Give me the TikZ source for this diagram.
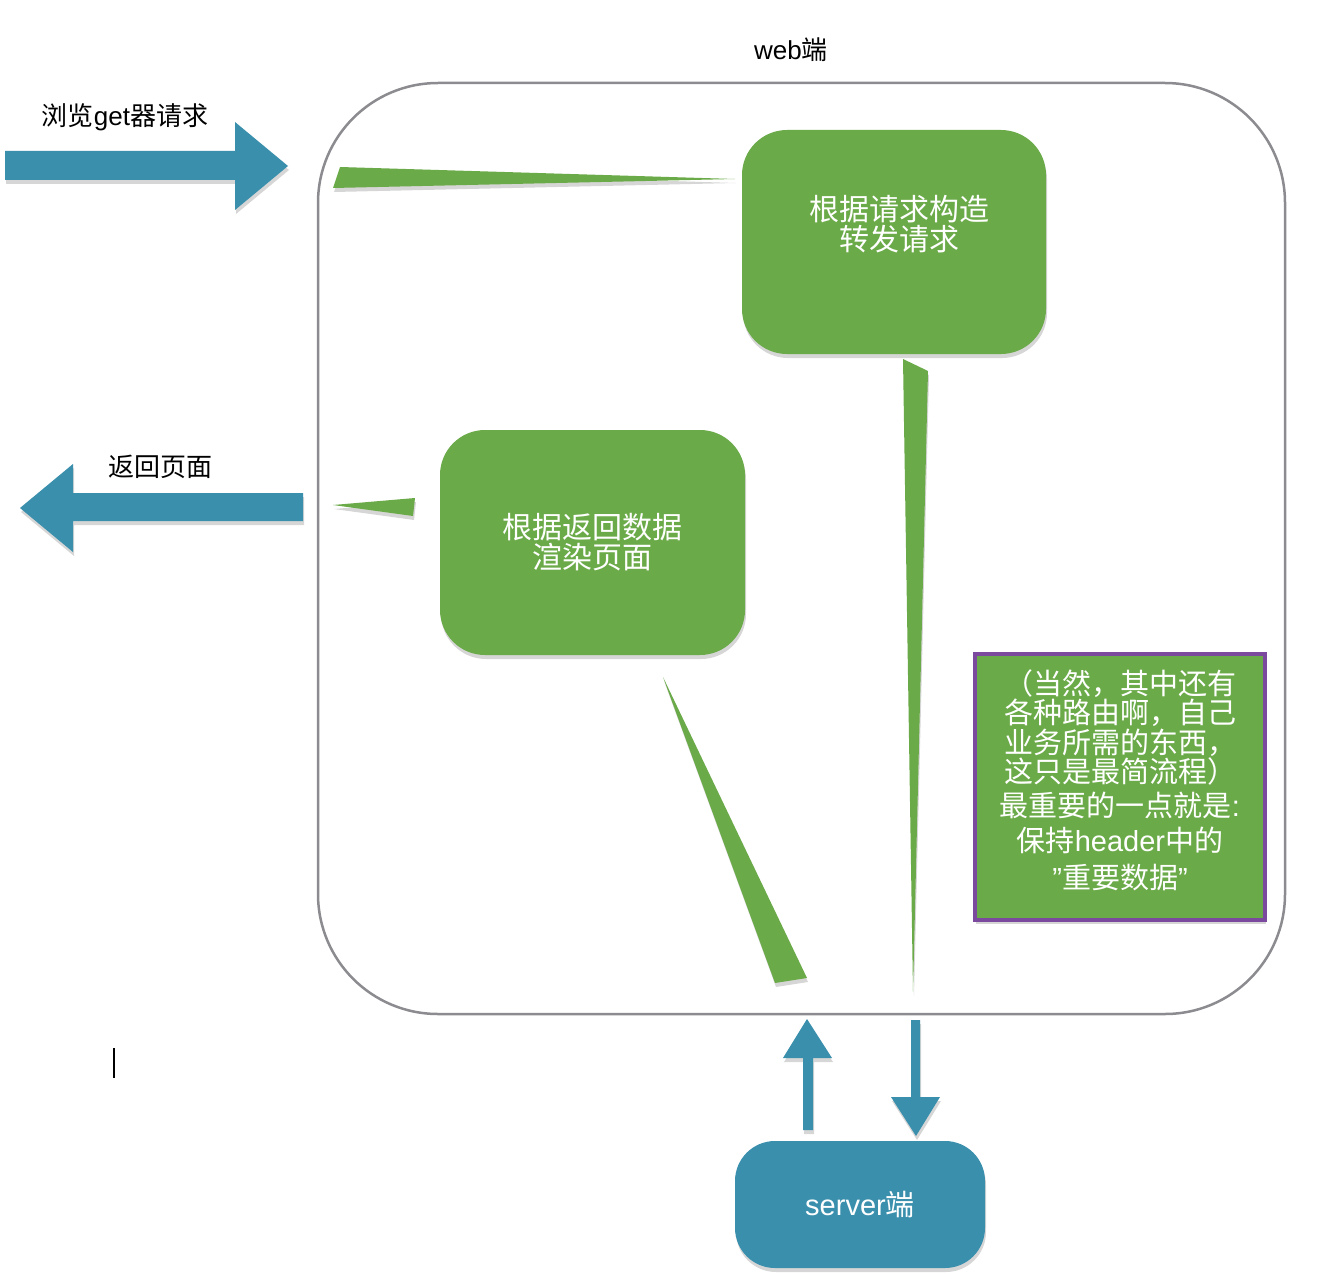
\documentclass[tikz,border=0pt]{standalone}
\usepackage{fontspec}
\setmainfont{Noto Sans CJK SC}
\newfontfamily\latf{Liberation Sans}
\usetikzlibrary{shadows}
\definecolor{grn}{HTML}{6BAA48}
\definecolor{blu}{HTML}{3A8FAD}
\definecolor{prp}{HTML}{7B4A9E}
\definecolor{frm}{HTML}{8C8C90}
\tikzset{
  shd/.style={drop shadow={shadow xshift=1pt,shadow yshift=-4pt,opacity=0.16,fill=black}},
  gbox/.style={shd,fill=grn,rounded corners=45pt,text=white,align=center,
    font=\fontsize{30}{30}\selectfont},
  wedge/.style={shd,fill=grn},
  barrow/.style={shd,fill=blu},
  lbl/.style={text=black,font=\fontsize{26}{28}\selectfont},
}
\begin{document}
\begin{tikzpicture}[x=1pt,y=-1pt]
\useasboundingbox[fill=white] (0,0) rectangle (1336,1284);
% frame
\node[draw=frm,line width=2.5pt,rounded corners=120pt,minimum width=967pt,minimum height=931pt] (web) at (801.5,548.5) {};
\node[lbl] (webl) at (791,50) {{\latf web}端};
% boxes
\node[gbox,minimum width=304pt,minimum height=224pt,
  label={[text=white,align=center,font=\fontsize{30}{30}\selectfont,yshift=18pt,xshift=5pt]center:根据请求构造\\转发请求}] (fwd) at (894,242) {};
\node[gbox,minimum width=305pt,minimum height=225pt] (rend) at (592.5,542.5) {根据返回数据\\渲染页面};
\node[shd,fill=blu,rounded corners=40pt,minimum width=250pt,minimum height=127pt,text=white,
  font=\fontsize{29}{30}\selectfont] (srv) at (860,1204.5) {{\latf server}端};
\node[shd,fill=grn,draw=prp,line width=4pt,minimum width=290pt,minimum height=266pt,
  label={[text=white,align=center,font=\fontsize{29}{29.5}\selectfont,yshift=7pt]center:（当然，其中还有\\各种路由啊，自己\\业务所需的东西，\\这只是最简流程）\\[4.5pt]最重要的一点就是{\latf :}\\[5.5pt]保持{\latf header}中的\\[7pt]{\latf ”}重要数据{\latf ”}}] (note) at (1120,787) {};
% labels
\node[lbl] (inl) at (125,117) {浏览{\latf get}器请求};
\node[lbl] (outl) at (160,467) {返回页面};
% big arrows
\coordinate (inA) at (5,165.5);
\coordinate (inB) at (288,166);
\fill[barrow] (inA) ++(0,-14.5) -- (235,151) -- (235,122) -- (inB) -- (235,210) -- (235,180) -- (5,180) -- cycle;
\coordinate (outA) at (303,507);
\coordinate (outB) at (20,508);
\fill[barrow] (outA) ++(0,-14) -- (73,493) -- (73,464) -- (outB) -- (73,552) -- (73,521) -- (303,521) -- cycle;
% wedges
\coordinate (w1a) at (340,167); \coordinate (w1t) at (735,179); \coordinate (w1b) at (333,188);
\fill[wedge] (w1a) -- (w1t) -- (w1b) -- cycle;
\coordinate (w2t) at (333,505); \coordinate (w2a) at (415,498); \coordinate (w2b) at (413,516);
\fill[wedge] (w2t) -- (w2a) -- (w2b) -- cycle;
\coordinate (w3a) at (903,359); \coordinate (w3b) at (928,371); \coordinate (w3t) at (913,992);
\fill[wedge] (w3a) -- (w3b) -- (w3t) -- cycle;
\coordinate (w4t) at (663,677); \coordinate (w4a) at (807,978); \coordinate (w4b) at (775,983);
\fill[wedge] (w4t) -- (w4a) -- (w4b) -- cycle;
% small arrows
\coordinate (upT) at (807,1019);
\fill[barrow] (803,1130) -- (803,1058) -- (783,1058) -- (upT) -- (832,1058) -- (813,1058) -- (813,1130) -- cycle;
\coordinate (dnT) at (916,1136);
\fill[barrow] (911,1020) -- (920,1020) -- (920,1097) -- (940,1097) -- (dnT) -- (891,1097) -- (911,1097) -- cycle;
% caret
\coordinate (c1) at (114,1048); \coordinate (c2) at (114,1078);
\draw[line width=2pt] (c1) -- (c2);
\end{tikzpicture}
\end{document}
